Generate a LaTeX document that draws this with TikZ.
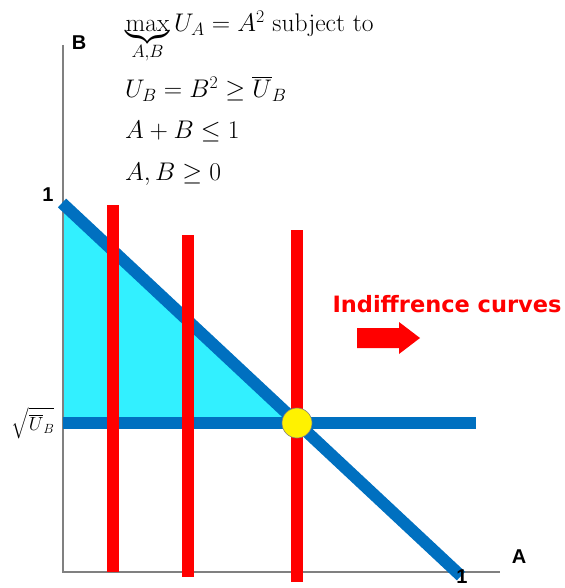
\RequirePackage{fix-cm}
\documentclass[tikz,border=0pt]{standalone}
\usepackage{fontspec}
\usepackage{amsmath}
\newfontfamily\labfont{Liberation Sans}
\newfontfamily\redfont{DejaVu Sans}
\definecolor{bblue}{RGB}{0,112,192}
\definecolor{ccyan}{RGB}{50,240,255}
\definecolor{axgray}{RGB}{128,128,128}
\tikzset{
  bluebar/.style={draw=bblue,line width=12pt},
  redbar/.style={draw=red,line width=12pt},
  axisline/.style={draw=axgray,line width=1.3pt},
  axlabel/.style={font=\labfont\bfseries\fontsize{20}{22}\selectfont,inner sep=0pt},
  eqline/.style={anchor=base west,inner sep=0pt,font=\fontsize{25.5}{30}\selectfont},
}
\begin{document}
\begin{tikzpicture}[x=1pt,y=-1pt]
\useasboundingbox (0,0) rectangle (564,588);
% coordinates
\coordinate (o) at (63,572);
\coordinate (ytop) at (63,45);
\coordinate (xend) at (500,572);
\coordinate (d1) at (62,203);
\coordinate (d2) at (461,576);
\coordinate (h1) at (63,423);
\coordinate (h2) at (476,423);
\coordinate (p) at (297,423);
% fill
\fill[ccyan] (63,203) -- (63,423) -- (p) -- cycle;
% axes
\draw[axisline] (ytop) -- (o) -- (xend);
% blue lines
\draw[bluebar] (d1) -- (d2);
\draw[bluebar] (h1) -- (h2);
% red bars
\coordinate (r1t) at (113,205); \coordinate (r1b) at (113,572);
\coordinate (r2t) at (187.5,235); \coordinate (r2b) at (187.5,577);
\coordinate (r3t) at (297,230); \coordinate (r3b) at (297,582);
\draw[redbar] (r1t) -- (r1b);
\draw[redbar] (r2t) -- (r2b);
\draw[redbar] (r3t) -- (r3b);
% point
\node[circle,fill=yellow,draw=axgray,line width=0.6pt,minimum size=30pt,inner sep=0pt] (pt) at (p) {};
% labels
\node[axlabel] (lB) at (79,43) {B};
\node[axlabel] (lA) at (519,557) {A};
\node[axlabel] (l1y) at (48,195) {1};
\node[axlabel] (l1x) at (462,577) {1};
\node[inner sep=0pt,font=\fontsize{19}{22}\selectfont] (lsq) at (33,423) {$\sqrt{\overline{U}_B}$};
% equations
\node[eqline] (e1) at (125,32) {$\underbrace{\mathrm{max}}_{A,B}U_A=A^2$ subject to};
\node[eqline] (e2) at (125,98) {$U_B=B^2\geq\overline{U}_B$};
\node[eqline] (e3) at (125,139) {$A+B\leq1$};
\node[eqline] (e4) at (125,180) {$A,B\geq0$};
% indifference
\node[inner sep=0pt,text=red,font=\redfont\bfseries\fontsize{22.5}{26}\selectfont] (ind) at (447,304) {Indiffrence curves};
\fill[red] (357,328) -- (399,328) -- (399,322) -- (420,338) -- (399,354) -- (399,348) -- (357,348) -- cycle;
\end{tikzpicture}
\end{document}
